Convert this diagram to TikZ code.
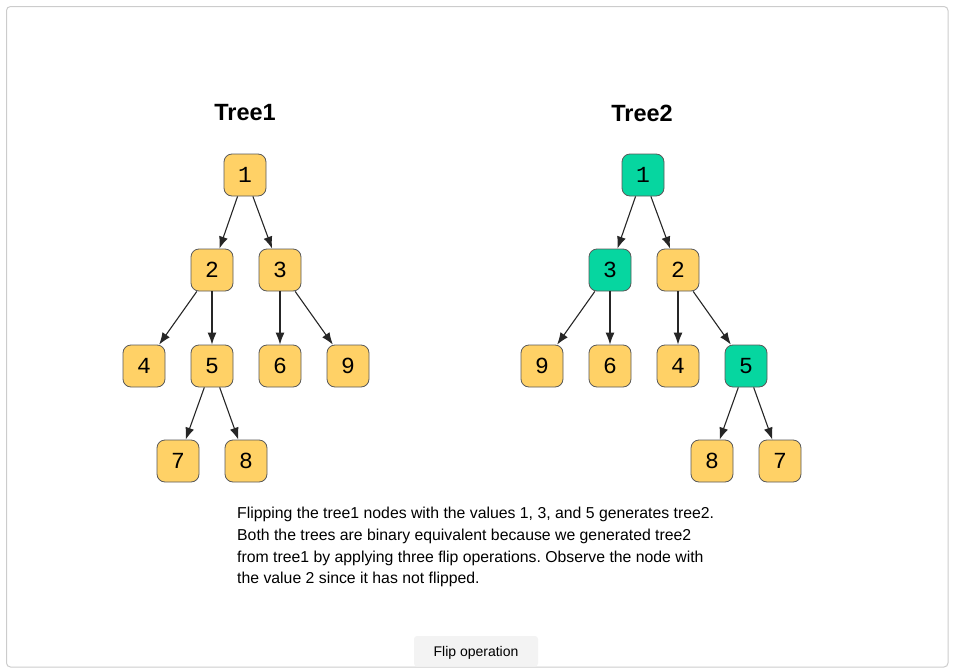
\documentclass[tikz,border=0pt]{standalone}
\usepackage{fontspec}
\setmainfont{Liberation Sans}
\newfontfamily\digitfont{Liberation Mono}
\usetikzlibrary{arrows.meta}
\definecolor{yellowfill}{HTML}{FFD166}
\definecolor{greenfill}{HTML}{06D6A0}
\definecolor{framegray}{HTML}{CCCCCC}
\definecolor{buttongray}{HTML}{F3F3F3}
\tikzset{
  treenode/.style={draw=black!65, line width=0.8pt, rounded corners=8pt, minimum width=42pt, minimum height=42pt, inner sep=0pt, font=\digitfont\fontsize{23}{23}\selectfont},
  yellownode/.style={treenode, fill=yellowfill},
  greennode/.style={treenode, fill=greenfill},
  edge/.style={draw=black!85, line width=1.1pt, -{Latex[length=12pt,width=9pt]}},
  title/.style={font=\bfseries\fontsize{23.5}{23.5}\selectfont}
}
\begin{document}
\begin{tikzpicture}[x=1pt,y=-1pt]
\useasboundingbox (0,0) rectangle (954,672);
\draw[framegray, rounded corners=4pt, line width=1pt] (6.5,6.5) rectangle (948,667);
% Tree1
\node[title] (titleA) at (245,113) {Tree1};
\node[yellownode] (a1) at (245,175) {1};
\node[yellownode] (a2) at (212,270) {2};
\node[yellownode] (a3) at (280,270) {3};
\node[yellownode] (a4) at (144,366) {4};
\node[yellownode] (a5) at (212,366) {5};
\node[yellownode] (a6) at (280,366) {6};
\node[yellownode] (a9) at (348,366) {9};
\node[yellownode] (a7) at (178,461) {7};
\node[yellownode] (a8) at (246,461) {8};
\draw[edge] (a1)--(a2);
\draw[edge] (a1)--(a3);
\draw[edge] (a2)--(a4);
\draw[edge] (a2)--(a5);
\draw[edge] (a3)--(a6);
\draw[edge] (a3)--(a9);
\draw[edge] (a5)--(a7);
\draw[edge] (a5)--(a8);
% Tree2
\node[title] (titleB) at (642,113) {Tree2};
\node[greennode] (b1) at (643,175) {1};
\node[greennode] (b3) at (610,270) {3};
\node[yellownode] (b2) at (678,270) {2};
\node[yellownode] (b9) at (542,366) {9};
\node[yellownode] (b6) at (610,366) {6};
\node[yellownode] (b4) at (678,366) {4};
\node[greennode] (b5) at (746,366) {5};
\node[yellownode] (b8) at (712,461) {8};
\node[yellownode] (b7) at (780,461) {7};
\draw[edge] (b1)--(b3);
\draw[edge] (b1)--(b2);
\draw[edge] (b3)--(b9);
\draw[edge] (b3)--(b6);
\draw[edge] (b2)--(b4);
\draw[edge] (b2)--(b5);
\draw[edge] (b5)--(b8);
\draw[edge] (b5)--(b7);
% caption
\node[anchor=north west, align=left, inner sep=0pt, font=\frenchspacing\fontsize{15.8}{21.7}\selectfont] (note) at (237,507)
{Flipping the tree1 nodes with the values 1, 3, and 5 generates tree2.\\
Both the trees are binary equivalent because we generated tree2\\
from tree1 by applying three flip operations. Observe the node with\\
the value 2 since it has not flipped.};
\fill[buttongray, rounded corners=3pt] (414,636) rectangle (538,666.5);
\node[font=\fontsize{14}{14}\selectfont] (button) at (476,652.5) {Flip operation};
\end{tikzpicture}
\end{document}
